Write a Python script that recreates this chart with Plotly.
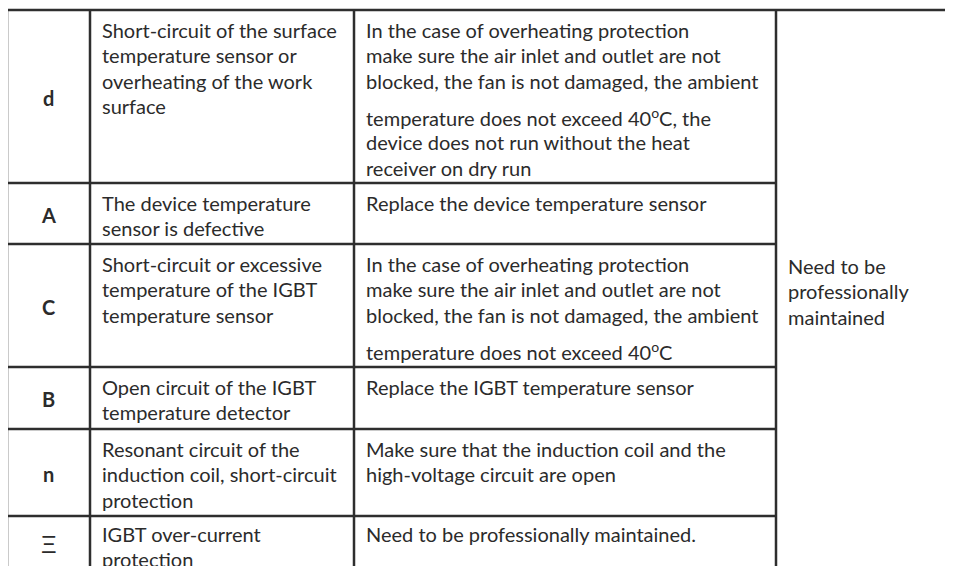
import plotly.graph_objects as go

# ---- table content ----
codes = ["d", "A", "C", "B", "n", "Ξ"]
causes = [
    ["Short-circuit of the surface", "temperature sensor or", "overheating of the work", "surface"],
    ["The device temperature", "sensor is defective"],
    ["Short-circuit or excessive", "temperature of the IGBT", "temperature sensor"],
    ["Open circuit of the IGBT", "temperature detector"],
    ["Resonant circuit of the", "induction coil, short-circuit", "protection"],
    ["IGBT over-current", "protection"],
]
solutions = [
    ["In the case of overheating protection",
     "make sure the air inlet and outlet are not",
     "blocked, the fan is not damaged, the ambient",
     "temperature does not exceed 40<sup>o</sup>C, the",
     "device does not run without the heat",
     "receiver on dry run"],
    ["Replace the device temperature sensor"],
    ["In the case of overheating protection",
     "make sure the air inlet and outlet are not",
     "blocked, the fan is not damaged, the ambient",
     "temperature does not exceed 40<sup>o</sup>C"],
    ["Replace the IGBT temperature sensor"],
    ["Make sure that the induction coil and the", "high-voltage circuit are open"],
    ["Need to be professionally maintained."],
]
remark = ["Need to be", "professionally", "maintained"]

# ---- layout geometry (axis units = page pixels) ----
W, H = 953, 566
BODY = 8  # default page margin around the plot div
col_x = [7, 90, 354, 776]
row_y = [10, 183, 244, 367, 429, 516, 572]
first_off = 19.5
line_h = 25.5
sup_extra = 10.5
text_pad = 10
line_color = "#2e2e2e"
text_color = "#2b2b2b"
font_family = "Lato, 'Open Sans', sans-serif"
fsize = 20

fig = go.Figure()
shapes = []
annotations = []

# top border across whole width
shapes.append(dict(type="line", x0=col_x[0], x1=W + 20, y0=row_y[0], y1=row_y[0]))
# horizontal row separators
for y in row_y[1:-1]:
    shapes.append(dict(type="line", x0=col_x[0], x1=col_x[3], y0=y, y1=y))
# vertical lines
for x in col_x:
    shapes.append(dict(type="line", x0=x, x1=x, y0=row_y[0], y1=H + 20))
for s in shapes:
    s.update(xref="x", yref="y", line=dict(color=line_color, width=2.5), layer="above")


def add_lines(lines, x, y0):
    y = y0
    for i, ln in enumerate(lines):
        if i > 0:
            y += line_h
        if "<sup>" in ln:
            y += sup_extra
        annotations.append(dict(x=x, y=y, xref="x", yref="y", text=ln, showarrow=False,
                                xanchor="left", yanchor="middle", align="left",
                                font=dict(family=font_family, size=fsize, color=text_color)))


for i, code in enumerate(codes):
    top, bot = row_y[i], row_y[i + 1]
    if code.isascii():
        txt, fnt = "<b>%s</b>" % code, dict(family=font_family, size=fsize, color=text_color)
        yc = (top + bot) / 2 + 1
    else:
        txt, fnt = code, dict(family="'Liberation Sans', 'DejaVu Sans', sans-serif", size=24, color=text_color)
        yc = (top + bot) / 2
    annotations.append(dict(x=(col_x[0] + col_x[1]) / 2, y=yc, xref="x", yref="y",
                            text=txt, showarrow=False, xanchor="center", yanchor="middle", font=fnt))
    off = first_off if i < len(codes) - 1 else first_off - 2
    add_lines(causes[i], col_x[1] + text_pad, top + off)
    add_lines(solutions[i], col_x[2] + text_pad, top + off)

mid = (row_y[0] + row_y[-1]) / 2
add_lines(remark, col_x[3] + text_pad, mid - line_h * (len(remark) - 1) / 2)

fig.update_layout(
    width=W - BODY, height=H - BODY, margin=dict(l=0, r=0, t=0, b=0),
    paper_bgcolor="white", plot_bgcolor="white",
    xaxis=dict(range=[BODY, W], visible=False, fixedrange=True),
    yaxis=dict(range=[H, BODY], visible=False, fixedrange=True),
    shapes=shapes, annotations=annotations, showlegend=False,
)
fig.write_html("out.html")
